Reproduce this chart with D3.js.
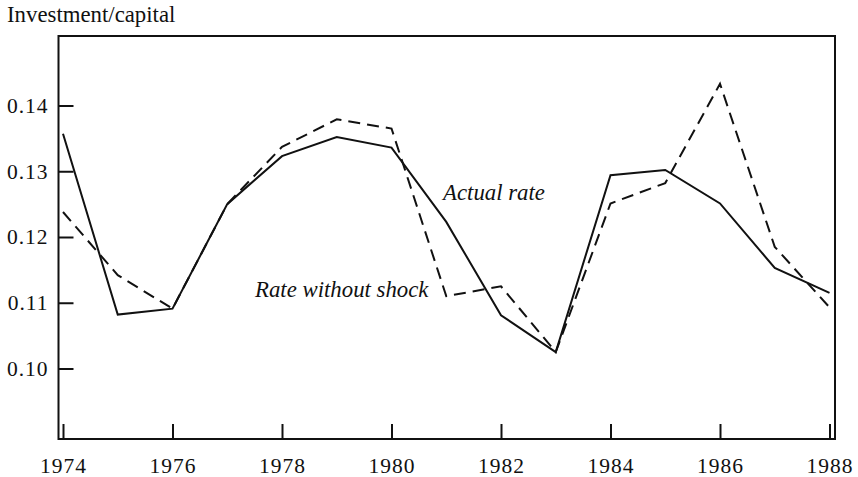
<!DOCTYPE html>
<html>
<head>
<meta charset="utf-8">
<script src="https://cdn.jsdelivr.net/npm/d3@7"></script>
<style>
  body { margin: 0; background: #fff; }
  text { font-family: "Liberation Serif", "Times New Roman", serif; fill: #111; }
  .tick text { font-size: 21.5px; letter-spacing: 1px; }
  .tick line { stroke: #111; stroke-width: 2; }
</style>
</head>
<body>
<script>
// years on the x axis
var years = [1974,1975,1976,1977,1978,1979,1980,1981,1982,1983,1984,1985,1986,1987,1988];
// investment/capital ratios
var actualRate = [0.1357,0.1082,0.1091,0.1250,0.1323,0.1352,0.1336,0.1223,0.1081,0.1025,0.1294,0.1302,0.1251,0.1153,0.1115];
var rateNoShock = [0.1238,0.1142,0.1091,0.1250,0.1337,0.1379,0.1365,0.1110,0.1125,0.1025,0.1251,0.1282,0.1433,0.1185,0.1093];
var xTicks = [1974,1976,1978,1980,1982,1984,1986,1988];
var yTicks = [0.10,0.11,0.12,0.13,0.14];

window.onload = function(){
  var width = 858, height = 477;
  var frame = {left:58.5, right:835, top:36, bottom:439};

  var svg = d3.select("body").append("svg")
      .attr("width", width)
      .attr("height", height);

  var x = d3.scaleLinear().domain([1974,1988]).range([63,829.5]);
  var y = d3.scaleLinear().domain([0.10,0.14]).range([368.5,105.5]);

  // frame around the plot
  svg.append("rect")
      .attr("x", frame.left).attr("y", frame.top)
      .attr("width", frame.right-frame.left)
      .attr("height", frame.bottom-frame.top)
      .attr("fill", "none")
      .attr("stroke", "#111")
      .attr("stroke-width", 2);

  var xAxis = d3.axisBottom(x)
      .tickValues(xTicks)
      .tickFormat(d3.format("d"))
      .tickSizeInner(-15)
      .tickSizeOuter(0)
      .tickPadding(19);
  svg.append("g")
      .attr("transform", "translate(0," + frame.bottom + ")")
      .call(xAxis)
      .call(function(g){ g.select(".domain").remove(); });

  var yAxis = d3.axisLeft(y)
      .tickValues(yTicks)
      .tickFormat(d3.format(".2f"))
      .tickSizeInner(-15)
      .tickSizeOuter(0)
      .tickPadding(10);
  svg.append("g")
      .attr("transform", "translate(" + frame.left + ",0)")
      .call(yAxis)
      .call(function(g){ g.select(".domain").remove(); });

  svg.selectAll(".tick text").attr("font-family", null).attr("font-size", null).attr("fill", "#111");

  var line = d3.line()
      .x(function(d){ return x(d[0]); })
      .y(function(d){ return y(d[1]); });

  svg.append("path")
      .datum(d3.zip(years, rateNoShock))
      .attr("d", line)
      .attr("fill", "none")
      .attr("stroke", "#111")
      .attr("stroke-width", 2)
      .attr("stroke-dasharray", "12,7");

  svg.append("path")
      .datum(d3.zip(years, actualRate))
      .attr("d", line)
      .attr("fill", "none")
      .attr("stroke", "#111")
      .attr("stroke-width", 2);

  // titles and labels
  svg.append("text")
      .attr("x", 7).attr("y", 22)
      .attr("font-size", 22.8)
      .text("Investment/capital");

  svg.append("text")
      .attr("x", 443).attr("y", 200)
      .attr("font-size", 22.8)
      .attr("font-style", "italic")
      .text("Actual rate");

  svg.append("text")
      .attr("x", 255).attr("y", 297)
      .attr("font-size", 22.8)
      .attr("font-style", "italic")
      .text("Rate without shock");
};
</script>
</body>
</html>
